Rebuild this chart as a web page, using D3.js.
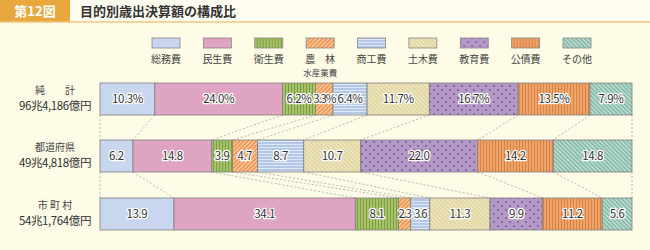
<!DOCTYPE html>
<html><head><meta charset="utf-8">
<script src="https://cdn.jsdelivr.net/npm/d3@7"></script>
<style>
html,body{margin:0;padding:0;background:#fefbe6;}
svg{display:block;font-family:"Noto Sans CJK JP","Noto Sans",sans-serif;}
</style></head>
<body><svg id="c" width="650" height="250"></svg>
<script>
const categories = ["総務費","民生費","衛生費","農林水産業費","商工費","土木費","教育費","公債費","その他"];
const legendLabels = [["総務費"],["民生費"],["衛生費"],["農　林","水産業費"],["商工費"],["土木費"],["教育費"],["公債費"],["その他"]];
const rowNames = ["純　　計","都道府県","市 町 村"];
const rowTotals = ["96兆4,186億円","49兆4,818億円","54兆1,764億円"];
const valuesTotal = [10.3,24.0,6.2,3.3,6.4,11.7,16.7,13.5,7.9];
const valuesPref  = [6.2,14.8,3.9,4.7,8.7,10.7,22.0,14.2,14.8];
const valuesMuni  = [13.9,34.1,8.1,2.3,3.6,11.3,9.9,11.2,5.6];
const rows = [valuesTotal, valuesPref, valuesMuni];

const svg = d3.select("#c");
const defs = svg.append("defs");

function pat(id, bg, draw, w, h, rot){
  const p = defs.append("pattern").attr("id",id).attr("patternUnits","userSpaceOnUse")
    .attr("width",w).attr("height",h);
  if(rot) p.attr("patternTransform","rotate("+rot+")");
  p.append("rect").attr("width",w).attr("height",h).attr("fill",bg);
  draw(p);
  return "url(#"+id+")";
}
const fills = [
  "#c8d6ef",
  "#dfa4c1",
  pat("p2","#a6c268",p=>p.append("rect").attr("x",0).attr("width",1).attr("height",3).attr("fill","#7f9f44"),3,3),
  pat("p3","#ef9a55",p=>p.append("rect").attr("x",0).attr("width",0.8).attr("height",3).attr("fill","#fbe3cc"),3,3,45),
  pat("p4","#b3c8e7",p=>p.append("rect").attr("y",0).attr("width",3).attr("height",0.8).attr("fill","#eaf0fa"),3,3),
  pat("p5","#e2d7a2",p=>p.append("rect").attr("x",0).attr("width",0.8).attr("height",3).attr("fill","#f5efd5"),3,3,-45),
  pat("p6","#b499c8",p=>{p.append("circle").attr("cx",2).attr("cy",2).attr("r",0.9).attr("fill","#6e5a80");p.append("circle").attr("cx",6).attr("cy",6).attr("r",0.9).attr("fill","#6e5a80");},8,8),
  pat("p7","#eca46a",p=>p.append("rect").attr("x",0).attr("width",1).attr("height",3).attr("fill","#dc8040"),3,3),
  pat("p8","#89bdac",p=>p.append("rect").attr("x",0).attr("width",0.8).attr("height",3).attr("fill","#def0e9"),3,3,-45)
];

// Title
svg.append("rect").attr("x",0).attr("y",0).attr("width",650).attr("height",22).attr("fill","#fffdf2");
svg.append("rect").attr("x",0).attr("y",0).attr("width",70).attr("height",22).attr("fill","#e8a83e");
svg.append("line").attr("x1",0).attr("x2",650).attr("y1",22).attr("y2",22).attr("stroke","#efc882").attr("stroke-width",1.5);
svg.append("text").attr("x",35).attr("y",16).attr("text-anchor","middle").attr("fill","#fff")
  .attr("font-size",13).attr("font-weight","bold").text("第12図");
svg.append("text").attr("x",80).attr("y",16).attr("fill","#333").attr("font-size",13).attr("font-weight","bold")
  .text("目的別歳出決算額の構成比");

// Legend
const lx = d3.scalePoint().domain(categories).range([166,577]);
const lg = svg.append("g").selectAll("g").data(categories).join("g")
  .attr("transform",d=>`translate(${lx(d)},0)`);
lg.append("rect").attr("x",-14).attr("y",38).attr("width",28).attr("height",10)
  .attr("fill",(d,i)=>fills[i]).attr("stroke","#888").attr("stroke-width",0.8);
lg.each(function(d,i){
  const g=d3.select(this);
  legendLabels[i].forEach((t,j)=>{
    g.append("text").attr("y",63+j*13).attr("text-anchor","middle")
      .attr("font-size",j?8.5:10).attr("fill","#444").text(t);
  });
});

// Bars
const x = d3.scaleLinear().domain([0,100]).range([100,632]);
const barH = 32;
const yTop = [83,140,198];

const stacks = rows.map(r=>{let c=0;return r.map(v=>{const s=c;c+=v;return [s,c,v];});});

// connectors
for(let r=0;r<2;r++){
  const bounds=[0].concat(stacks[r].map(d=>d[1]));
  const bounds2=[0].concat(stacks[r+1].map(d=>d[1]));
  bounds.forEach((b,i)=>{
    svg.append("line").attr("x1",x(b)).attr("y1",yTop[r]+barH).attr("x2",x(bounds2[i])).attr("y2",yTop[r+1])
      .attr("stroke","#a8a8a8").attr("stroke-width",0.8).attr("stroke-dasharray","2,2");
  });
}

rows.forEach((r,ri)=>{
  const g=svg.append("g");
  g.selectAll("rect").data(stacks[ri]).join("rect")
    .attr("x",d=>x(d[0])).attr("width",d=>x(d[1])-x(d[0]))
    .attr("y",yTop[ri]).attr("height",barH)
    .attr("fill",(d,i)=>fills[i]).attr("stroke","#808080").attr("stroke-width",0.8);
  const txt = d=> ri===0 ? d[2].toFixed(1)+"%" : d[2].toFixed(1);
  const fs = 11.5;
  const ls = d=>(x(d[1])-x(d[0]))<20?-1.2:-0.4;
  g.selectAll("text.h").data(stacks[ri]).join("text").attr("class","h")
    .attr("x",d=>(x(d[0])+x(d[1]))/2).attr("y",yTop[ri]+barH/2+4)
    .attr("text-anchor","middle").attr("font-size",fs)
    .attr("stroke","#fff").attr("stroke-width",2.5).attr("stroke-linejoin","round")
    .attr("fill","none").attr("letter-spacing",ls).text(txt);
  g.selectAll("text.t").data(stacks[ri]).join("text").attr("class","t")
    .attr("x",d=>(x(d[0])+x(d[1]))/2).attr("y",yTop[ri]+barH/2+4)
    .attr("text-anchor","middle").attr("font-size",fs).attr("fill","#333")
    .attr("letter-spacing",ls).text(txt);
  svg.append("text").attr("x",55).attr("y",yTop[ri]+11).attr("text-anchor","middle")
    .attr("font-size",10).attr("fill","#444").text(rowNames[ri]);
  svg.append("text").attr("x",55).attr("y",yTop[ri]+27).attr("text-anchor","middle")
    .attr("font-size",11.5).attr("fill","#333").attr("letter-spacing",-0.4).text(rowTotals[ri]);
});
</script></body></html>
